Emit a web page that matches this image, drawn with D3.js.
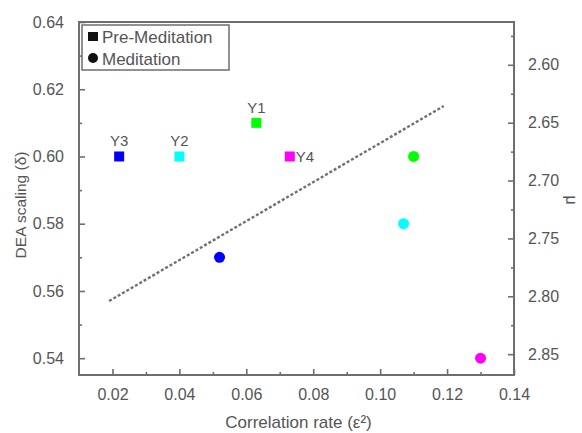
<!DOCTYPE html>
<html>
<head>
<meta charset="utf-8">
<script src="https://cdn.jsdelivr.net/npm/d3@7"></script>
<style>
  body { margin: 0; background: #fff; }
  svg text { font-family: "Liberation Sans", Arial, sans-serif; fill: #555; }
</style>
</head>
<body>
<div class="chart"></div>
<script>
// pre-meditation (squares)
const preNames = ["Y3", "Y2", "Y1", "Y4"]
const preX = [0.022, 0.040, 0.063, 0.073]
const preY = [0.60, 0.60, 0.61, 0.60]
// meditation (circles)
const medX = [0.052, 0.107, 0.110, 0.130]
const medY = [0.57, 0.58, 0.60, 0.54]
const subjectColors = ["#0000ff", "#00ffff", "#00ff00", "#ff00ff"]
const medColors = ["#0000ff", "#00ffff", "#00ff00", "#ff00ff"]
// dotted fit line end points
const fitX = [0.019, 0.119]
const fitY = [0.557, 0.615]

const xTicks = [0.02, 0.04, 0.06, 0.08, 0.10, 0.12, 0.14]
const yTicks = [0.54, 0.56, 0.58, 0.60, 0.62, 0.64]
const muTicks = [2.60, 2.65, 2.70, 2.75, 2.80, 2.85]
const legendNames = ["Pre-Meditation", "Meditation"]

const width = 582, height = 433
const margins = {left: 79, right: 68, top: 22, bottom: 58}
const axisColor = "#6e6e6e"

const svg = d3.select(".chart").append("svg")
  .attr("width", width).attr("height", height)

const x = d3.scaleLinear().domain([0.01, 0.14]).range([margins.left, width - margins.right])
const y = d3.scaleLinear().domain([0.535, 0.64]).range([height - margins.bottom, margins.top])
const mu = d3.scaleLinear().domain([2.563, 2.868]).range([margins.top, height - margins.bottom])

function minors(ticks, step, lo, hi) {
  return [ticks[0] - step / 2].concat(ticks.map(t => t + step / 2))
    .filter(v => v > lo && v < hi)
}

function styleAxis(g) {
  g.select(".domain").remove()
  g.selectAll("line").attr("stroke", axisColor).attr("stroke-width", 1.6)
  g.selectAll("text").style("font-size", "16px").attr("fill", "#555")
}

// minor ticks first
svg.append("g")
  .attr("transform", "translate(0," + (height - margins.bottom) + ")")
  .call(d3.axisBottom(x).tickValues(minors(xTicks, 0.02, 0.01, 0.14)).tickSize(-3).tickFormat(""))
  .call(styleAxis)
svg.append("g")
  .attr("transform", "translate(" + margins.left + ",0)")
  .call(d3.axisLeft(y).tickValues(minors(yTicks, 0.02, 0.535, 0.64)).tickSize(-3).tickFormat(""))
  .call(styleAxis)
svg.append("g")
  .attr("transform", "translate(" + (width - margins.right) + ",0)")
  .call(d3.axisRight(mu).tickValues(minors(muTicks, 0.05, 2.563, 2.868)).tickSize(-3).tickFormat(""))
  .call(styleAxis)

// major ticks
svg.append("g")
  .attr("transform", "translate(0," + (height - margins.bottom) + ")")
  .call(d3.axisBottom(x).tickValues(xTicks).tickSize(-6).tickPadding(14).tickFormat(d3.format(".2f")))
  .call(styleAxis)
svg.append("g")
  .attr("transform", "translate(" + margins.left + ",0)")
  .call(d3.axisLeft(y).tickValues(yTicks).tickSize(-6).tickPadding(15).tickFormat(d3.format(".2f")))
  .call(styleAxis)
svg.append("g")
  .attr("transform", "translate(" + (width - margins.right) + ",0)")
  .call(d3.axisRight(mu).tickValues(muTicks).tickSize(-6).tickPadding(14).tickFormat(d3.format(".2f")))
  .call(styleAxis)

// frame
svg.append("rect")
  .attr("x", margins.left).attr("y", margins.top)
  .attr("width", width - margins.left - margins.right)
  .attr("height", height - margins.top - margins.bottom)
  .attr("fill", "none").attr("stroke", axisColor).attr("stroke-width", 2)

// axis titles
svg.append("text").text("Correlation rate (ε²)")
  .attr("x", (margins.left + width - margins.right) / 2 + 2).attr("y", 428)
  .attr("text-anchor", "middle").style("font-size", "17px")
svg.append("text").text("DEA scaling (δ)")
  .attr("transform", "translate(26,205) rotate(-90)")
  .attr("text-anchor", "middle").style("font-size", "15.5px")
svg.append("text").text("μ")
  .attr("transform", "translate(566,200) rotate(90)")
  .attr("text-anchor", "middle").style("font-size", "16px")

// fit line
svg.append("line")
  .attr("x1", x(fitX[0])).attr("y1", y(fitY[0]))
  .attr("x2", x(fitX[1])).attr("y2", y(fitY[1]))
  .attr("stroke", "#707070").attr("stroke-width", 2.4)
  .attr("stroke-dasharray", "3,2")

// pre-meditation squares
const pre = preNames.map((n, i) => ({name: n, x: preX[i], y: preY[i], color: subjectColors[i]}))
svg.append("g").selectAll("rect").data(pre).enter().append("rect")
  .attr("x", d => x(d.x) - 5).attr("y", d => y(d.y) - 5)
  .attr("width", 10).attr("height", 10)
  .attr("fill", d => d.color)

svg.append("g").selectAll("text").data(pre).enter().append("text")
  .text(d => d.name)
  .attr("x", d => d.name === "Y4" ? x(d.x) + 6 : x(d.x))
  .attr("y", d => d.name === "Y4" ? y(d.y) + 6 : y(d.y) - 10)
  .attr("text-anchor", d => d.name === "Y4" ? "start" : "middle")
  .style("font-size", "15px")

// meditation circles
const med = medX.map((v, i) => ({x: v, y: medY[i], color: medColors[i]}))
svg.append("g").selectAll("circle").data(med).enter().append("circle")
  .attr("cx", d => x(d.x)).attr("cy", d => y(d.y))
  .attr("r", 5.5)
  .attr("fill", d => d.color)

// legend
const legend = svg.append("g").attr("transform", "translate(82,25)")
legend.append("rect")
  .attr("width", 147).attr("height", 45)
  .attr("fill", "#fff").attr("stroke", axisColor).attr("stroke-width", 1.5)
legend.append("rect").attr("x", 6).attr("y", 7).attr("width", 10).attr("height", 9).attr("fill", "#111")
legend.append("circle").attr("cx", 11).attr("cy", 33).attr("r", 5).attr("fill", "#111")
legend.selectAll(".lt").data(legendNames).enter().append("text")
  .attr("class", "lt")
  .text(d => d)
  .attr("x", 20).attr("y", (d, i) => 18 + i * 22)
  .style("font-size", "17px")
</script>
</body>
</html>
